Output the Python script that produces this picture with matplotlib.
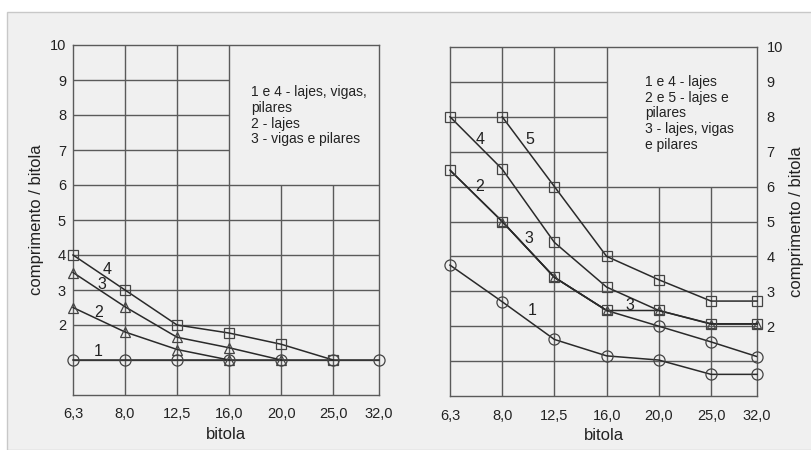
import matplotlib.pyplot as plt
from matplotlib.patches import Rectangle

plt.rcParams['font.family'] = ['Liberation Sans', 'DejaVu Sans']

# categorias do eixo x (bitola, mm)
bitolas = ['6,3', '8,0', '12,5', '16,0', '20,0', '25,0', '32,0']
xpos = [0, 1, 2, 3, 4, 5, 5.88]

# grafico da esquerda
esq_1 = [1.0, 1.0, 1.0, 1.0, 1.0, 1.0, 1.0]
esq_2 = [2.5, 1.8, 1.3, 1.0]
esq_3 = [3.5, 2.52, 1.65, 1.35, 1.0]
esq_4 = [4.0, 3.0, 2.0, 1.77, 1.45, 1.0]

# grafico da direita
dir_1 = [3.75, 2.7, 1.62, 1.15, 1.03, 0.62, 0.62]
dir_2 = [6.47, 5.0, 3.4, 2.45, 2.0, 1.55, 1.13]
dir_3 = [5.0, 3.4, 2.45, 2.45, 2.06, 2.06]          # comeca em 8,0
dir_4 = [8.0, 6.5, 4.4, 3.12, 2.45, 2.07, 2.07]
dir_5 = [8.0, 6.0, 4.0, 3.33, 2.72, 2.72]           # comeca em 8,0

legenda_esq = "1 e 4 - lajes, vigas,\npilares\n2 - lajes\n3 - vigas e pilares"
legenda_dir = "1 e 4 - lajes\n2 e 5 - lajes e\npilares\n3 - lajes, vigas\ne pilares"

FUNDO = '#f0f0f0'
GRADE = '#5a5a5a'
LINHA = '#2a2a2a'
TEXTO = '#222222'


def grade(ax):
    # grade parcial: canto superior direito fica livre para a legenda
    for y in range(1, 7):
        ax.hlines(y, xpos[0], xpos[-1], color=GRADE, lw=1.0, zorder=1)
    for y in range(7, 10):
        ax.hlines(y, xpos[0], xpos[3], color=GRADE, lw=1.0, zorder=1)
    for x in xpos[1:4]:
        ax.vlines(x, 0, 10, color=GRADE, lw=1.0, zorder=1)
    for x in xpos[4:6]:
        ax.vlines(x, 0, 6, color=GRADE, lw=1.0, zorder=1)


def base(ax, lado):
    ax.set_facecolor(FUNDO)
    ax.set_xlim(xpos[0], xpos[-1])
    ax.set_ylim(0, 10)
    ax.set_xticks(xpos, bitolas)
    ax.set_yticks(range(2, 11))
    ax.tick_params(length=0, labelsize=10.5, colors=TEXTO)
    ax.tick_params(axis='x', pad=9)
    for s in ax.spines.values():
        s.set_color(GRADE)
        s.set_linewidth(1.0)
    ax.set_xlabel('bitola', fontsize=12, color=TEXTO, labelpad=4)
    if lado == 'direita':
        ax.yaxis.tick_right()
        ax.yaxis.set_label_position('right')
        ax.tick_params(axis='y', pad=7)
        ax.set_ylabel('comprimento / bitola', fontsize=12, color=TEXTO,
                      labelpad=4, rotation=90)
    else:
        ax.tick_params(axis='y', pad=5)
        ax.set_ylabel('comprimento / bitola', fontsize=12, color=TEXTO, labelpad=4)
    grade(ax)


def serie(ax, x, y, marker, ms=7):
    ax.plot(x, y, color=LINHA, lw=1.1, marker=marker, ms=ms,
            mfc='none', mec='#444444', mew=0.9, zorder=3, clip_on=False)


def rotulo(ax, x, y, t):
    ax.text(x, y, t, fontsize=11.5, color=TEXTO, ha='center', va='center', zorder=4)


fig = plt.figure(figsize=(8.12, 4.5), dpi=100)
fig.add_artist(Rectangle((7 / 812, 0), 1, 1 - 12 / 450, transform=fig.transFigure,
                         facecolor=FUNDO, edgecolor='#c8c8c8', lw=1.0, zorder=0))

ax1 = fig.add_axes([73 / 812, 1 - 395 / 450, 306 / 812, 350 / 450])
ax2 = fig.add_axes([450 / 812, 1 - 396 / 450, 307 / 812, 349 / 450])

# ---- esquerda
base(ax1, 'esquerda')
serie(ax1, xpos[:len(esq_1)], esq_1, 'o', 8)
serie(ax1, xpos[:len(esq_2)], esq_2, '^', 7)
serie(ax1, xpos[:len(esq_3)], esq_3, '^', 7)
serie(ax1, xpos[:len(esq_4)], esq_4, 's', 6.5)
rotulo(ax1, 0.65, 3.6, '4')
rotulo(ax1, 0.56, 3.15, '3')
rotulo(ax1, 0.5, 2.35, '2')
rotulo(ax1, 0.48, 1.25, '1')
ax1.text(3.42, 8.85, legenda_esq, fontsize=10, color=TEXTO, ha='left', va='top',
         linespacing=1.15)

# ---- direita
base(ax2, 'direita')
serie(ax2, xpos, dir_1, 'o', 8)
ax2.plot(xpos, dir_2, color=LINHA, lw=1.1, zorder=3)
serie(ax2, xpos[:4], dir_2[:4], 's', 6.5)
ax2.plot(xpos[4:], dir_2[4:], ls='none', marker='o', ms=8, mfc='none',
         mec='#444444', mew=0.9, zorder=3, clip_on=False)
serie(ax2, xpos[1:], dir_3, '^', 6)
serie(ax2, xpos, dir_4, 's', 6.5)
serie(ax2, xpos[1:], dir_5, 's', 6.5)
rotulo(ax2, 0.58, 7.36, '4')
rotulo(ax2, 1.52, 7.36, '5')
rotulo(ax2, 0.56, 6.0, '2')
rotulo(ax2, 1.52, 4.5, '3')
rotulo(ax2, 1.58, 2.46, '1')
rotulo(ax2, 3.44, 2.6, '3')
ax2.text(3.73, 9.2, legenda_dir, fontsize=10, color=TEXTO, ha='left', va='top',
         linespacing=1.15)

fig.savefig('out.png', dpi=100)
